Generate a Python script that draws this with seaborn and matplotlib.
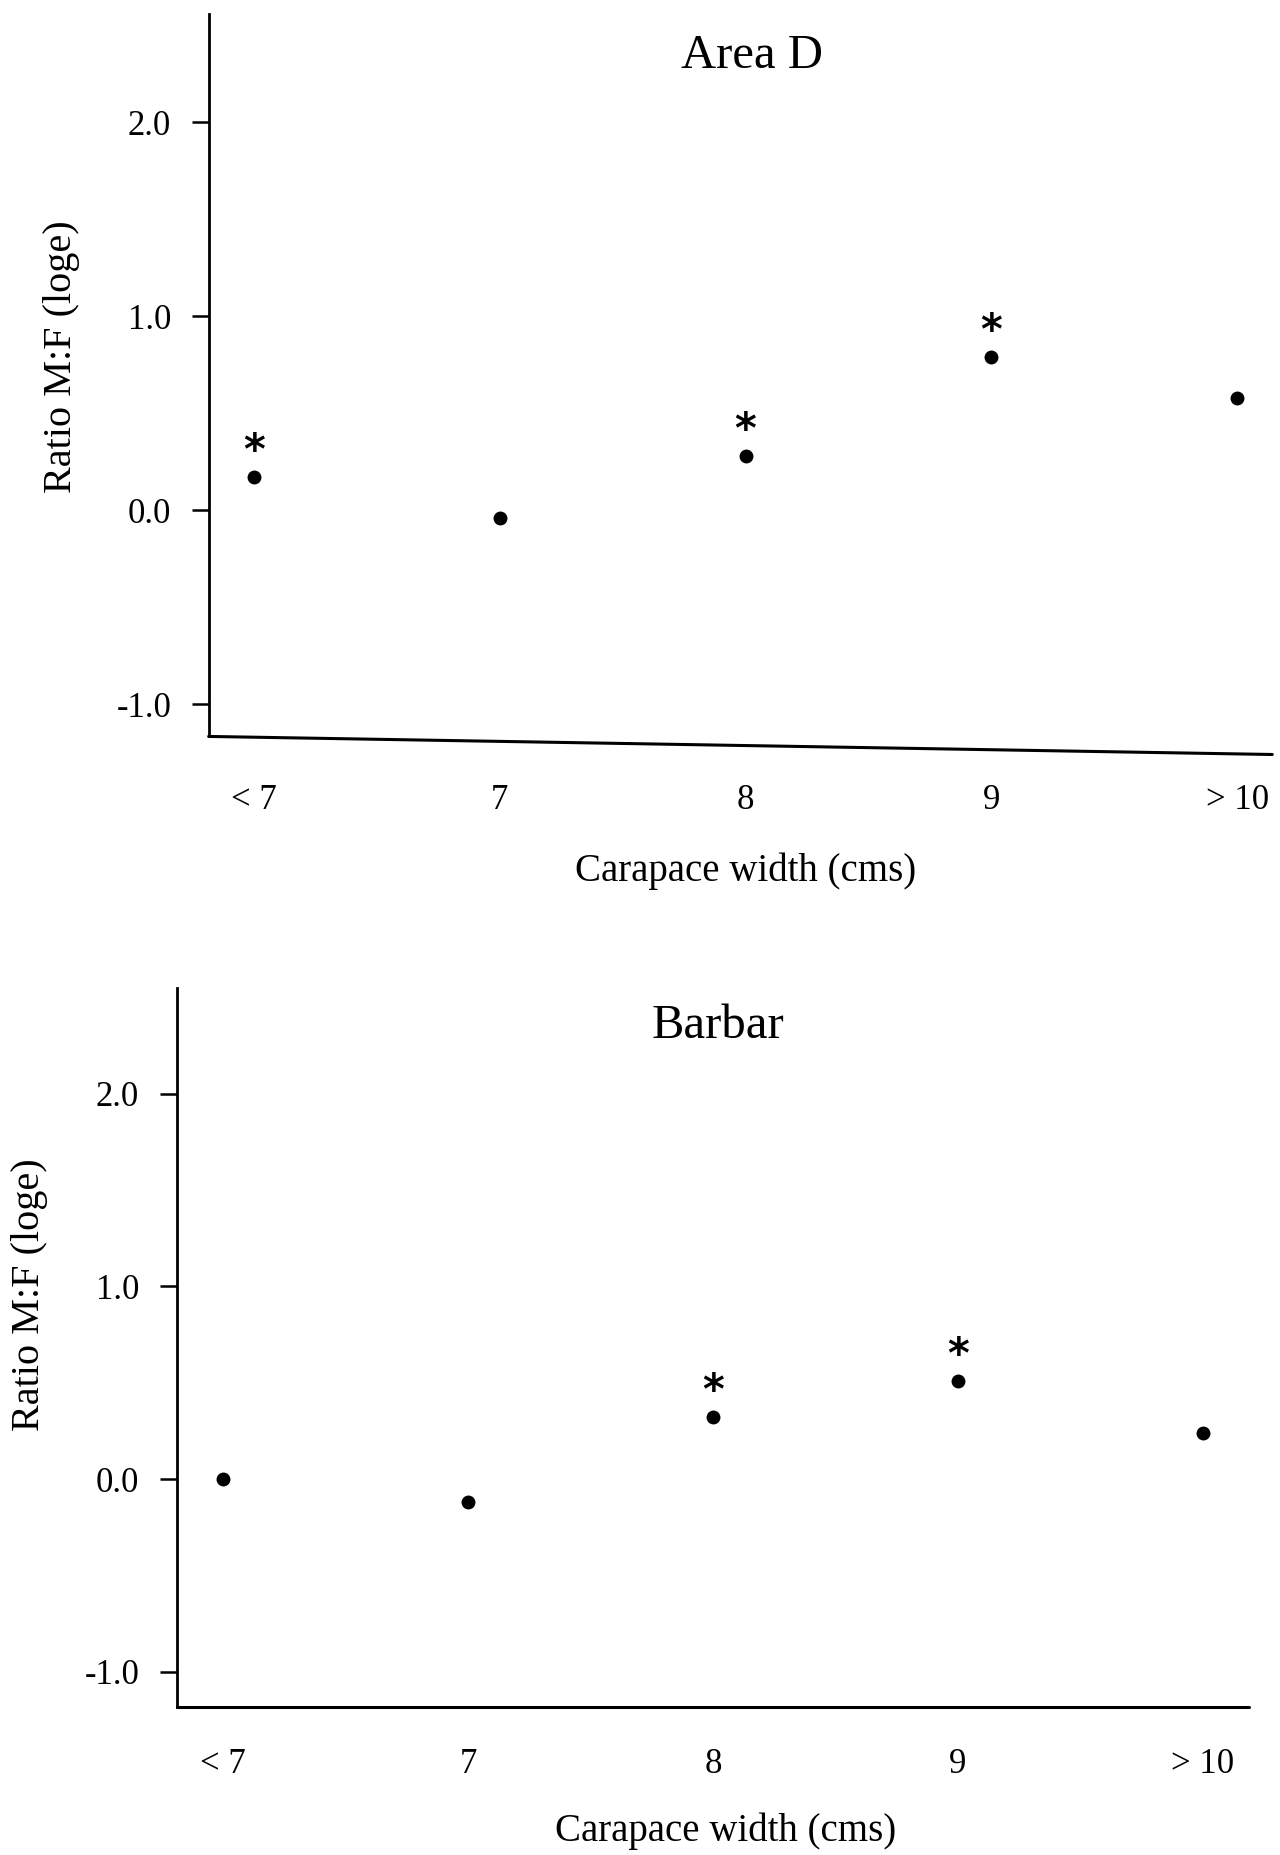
import matplotlib
matplotlib.use("Agg")
import matplotlib.pyplot as plt
from matplotlib.lines import Line2D
import seaborn as sns
import pandas as pd

# Size classes (carapace width, cm)
categories = ["< 7", "7", "8", "9", "> 10"]

# Log-e ratio of males to females per size class
area_d_ratio = [0.17, -0.04, 0.28, 0.79, 0.58]
barbar_ratio = [0.00, -0.12, 0.32, 0.51, 0.24]

# Size classes with a significant departure from 1:1
area_d_signif = [True, False, True, True, False]
barbar_signif = [False, False, True, True, False]

sns.set_theme(style="white")
plt.rcParams["font.family"] = ["Liberation Serif", "DejaVu Serif"]

fig = plt.figure(figsize=(12.8, 18.55), dpi=100)

panels = [
    dict(title="Area D", values=area_d_ratio, signif=area_d_signif,
         rect=[0.163, 0.603, 0.831, 0.3895], xlim=(-0.183, 4.142),
         ylim=(-1.165, 2.557), title_xy=(0.511, 0.942), xpad=34,
         xlabel_xy=(0.505, -0.186), ylabel_xy=(-0.138, 0.525), slant=0.025),
    dict(title="Barbar", values=barbar_ratio, signif=barbar_signif,
         rect=[0.138, 0.080, 0.838, 0.3876], xlim=(-0.19, 4.19),
         ylim=(-1.18, 2.55), title_xy=(0.505, 0.946), xpad=30,
         xlabel_xy=(0.512, -0.173), ylabel_xy=(-0.137, 0.573), slant=0.0),
]

for p in panels:
    ax = fig.add_axes(p["rect"])
    df = pd.DataFrame({"pos": range(len(categories)), "ratio": p["values"]})
    sns.scatterplot(data=df, x="pos", y="ratio", ax=ax, color="black",
                    s=100, edgecolor="black", linewidth=0, zorder=3)
    for xi, yi, sig in zip(df["pos"], df["ratio"], p["signif"]):
        if sig:
            ax.annotate("*", (xi, yi), xytext=(0, 3), textcoords="offset points",
                        ha="center", va="bottom", fontsize=30, fontweight="bold",
                        fontfamily="DejaVu Sans", color="black")

    ax.set_xlim(*p["xlim"])
    ax.set_ylim(*p["ylim"])
    ax.set_xticks(range(len(categories)))
    ax.set_xticklabels(categories)
    ax.set_yticks([-1.0, 0.0, 1.0, 2.0])
    ax.set_yticklabels(["-1.0", "0.0", "1.0", "2.0"])
    ax.tick_params(axis="y", direction="out", length=12, width=1.8,
                   pad=15, labelsize=25, colors="black", left=True)
    ax.tick_params(axis="x", length=0, pad=p["xpad"], labelsize=25, colors="black")
    ax.set_xlabel("")
    ax.set_ylabel("")

    for side in ["top", "right"]:
        ax.spines[side].set_visible(False)
    ax.spines["left"].set_color("black")
    ax.spines["left"].set_linewidth(2.0)
    ax.spines["bottom"].set_visible(False)
    ax.add_line(Line2D([0, 1], [0, -p["slant"]], transform=ax.transAxes,
                       color="black", lw=2.2, clip_on=False))

    ax.text(*p["title_xy"], p["title"], transform=ax.transAxes,
            ha="center", va="center", fontsize=35, color="black")
    ax.text(*p["xlabel_xy"], "Carapace width (cms)", transform=ax.transAxes,
            ha="center", va="center", fontsize=28, color="black")
    ax.text(*p["ylabel_xy"], "Ratio M:F (loge)", transform=ax.transAxes,
            ha="center", va="center", rotation=90, fontsize=29, color="black")

fig.savefig("out.png", dpi=100, facecolor="white")
